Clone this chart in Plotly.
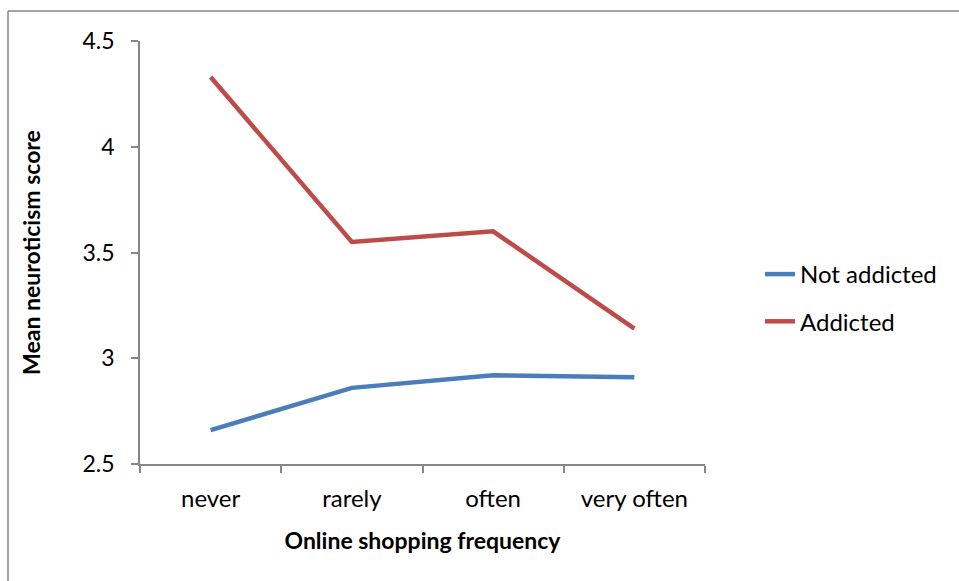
import plotly.graph_objects as go

categories = ["never", "rarely", "often", "very often"]
not_addicted = [2.66, 2.86, 2.92, 2.91]
addicted = [4.33, 3.55, 3.60, 3.14]
y_ticks = [2.5, 3, 3.5, 4, 4.5]
y_tick_labels = ["2.5", "3", "3.5", "4", "4.5"]

W, H = 959, 581
L, R, T, B = 140, 254, 41, 117
pw, ph = W - L - R, H - T - B

def px_x(x):
    return (x - L) / pw

def px_y(y):
    return 1 - (y - T) / ph

FONT = "Lato"
GRAY = "#868686"

fig = go.Figure()
fig.add_trace(go.Scatter(x=categories, y=not_addicted, mode="lines", name="Not addicted",
                         line=dict(color="#4A7EBB", width=4.5), legendgroup="a"))
fig.add_trace(go.Scatter(x=categories, y=addicted, mode="lines", name="Addicted",
                         line=dict(color="#BE4B48", width=4.5), legendgroup="b"))

fig.update_layout(
    width=W, height=H,
    margin=dict(l=L, r=R, t=T, b=B),
    paper_bgcolor="white", plot_bgcolor="white",
    font=dict(family=FONT, size=24, color="black"),
    showlegend=True,
    legend=dict(x=px_x(760), y=px_y(252), xanchor="left", yanchor="top",
                font=dict(size=24), tracegroupgap=13, traceorder="grouped",
                bgcolor="rgba(0,0,0,0)"),
    xaxis=dict(
        type="category", tickson="boundaries", showline=True, linecolor=GRAY, linewidth=1.5,
        ticks="outside", ticklen=7, tickcolor=GRAY, tickwidth=1.5,
        showgrid=False, zeroline=False, tickfont=dict(size=24),
        ticklabelstandoff=12,
        title=dict(text="<b>Online shopping frequency</b>", font=dict(size=23), standoff=22),
        range=[-0.5, 3.5],
    ),
    yaxis=dict(
        range=[2.5, 4.5], tickvals=y_ticks, ticktext=y_tick_labels,
        showline=True, linecolor=GRAY, linewidth=1.5,
        ticks="outside", ticklen=7, tickcolor=GRAY, tickwidth=1.5,
        showgrid=False, zeroline=False, tickfont=dict(size=23),
        ticklabelstandoff=12,
        title=dict(text="<b>Mean neuroticism score</b>", font=dict(size=23), standoff=35),
    ),
    shapes=[
        dict(type="line", xref="paper", yref="paper", x0=px_x(8), x1=px_x(1200),
             y0=px_y(11), y1=px_y(11), line=dict(color=GRAY, width=1.5)),
        dict(type="line", xref="paper", yref="paper", x0=px_x(8), x1=px_x(8),
             y0=px_y(11), y1=px_y(900), line=dict(color=GRAY, width=1.5)),
    ],
)

fig.write_html("out.html")
